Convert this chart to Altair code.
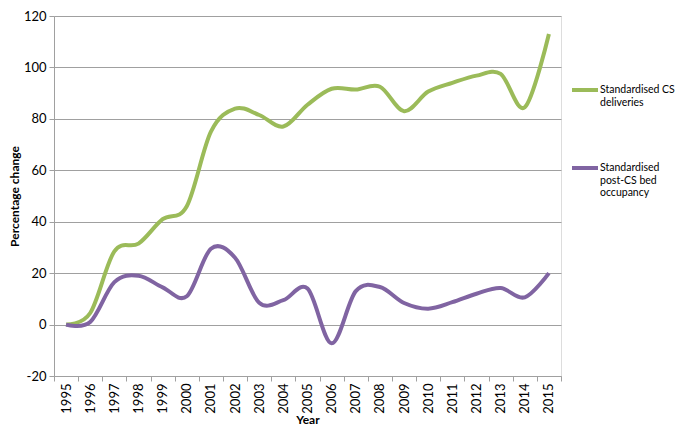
import altair as alt
import pandas as pd

years = list(range(1995, 2016))
cs_deliveries = [0, 4.5, 28.5, 31.5, 41, 46, 75, 84, 81.5, 77, 85.5, 91.7, 91.4, 92.5, 83, 90.6, 94, 96.8, 97.5, 84.5, 113]
bed_occupancy = [0, 1, 16.5, 19, 14.5, 11, 29.5, 26, 8.5, 9.5, 14, -7.3, 13, 14.6, 8.4, 6.2, 8.7, 12, 14.2, 10.6, 20]
series_names = ["Standardised CS deliveries", "Standardised post-CS bed occupancy"]
series_colors = ["#9BBB59", "#8064A2"]
y_ticks = [-20, 0, 20, 40, 60, 80, 100, 120]

rows = []
for yr, v in zip(years, cs_deliveries):
    rows.append({"Year": yr, "Value": v, "Series": series_names[0]})
for yr, v in zip(years, bed_occupancy):
    rows.append({"Year": yr, "Value": v, "Series": series_names[1]})
df = pd.DataFrame(rows)

FONT = "Lato"
GRID = "#A0A0A0"

label_expr = (
    "datum.label == 'Standardised CS deliveries' ? ['Standardised CS', 'deliveries'] : "
    "['Standardised', 'post-CS bed', 'occupancy']"
)

chart = alt.Chart(df).mark_line(
    interpolate="cardinal", tension=0, strokeWidth=4
).encode(
    x=alt.X(
        "Year:O",
        scale=alt.Scale(type="band", paddingInner=0, paddingOuter=0),
        bandPosition=0.5,
        axis=alt.Axis(
            title="Year", labelAngle=-90, tickBand="extent", grid=False,
            domainColor=GRID, tickColor=GRID, tickSize=5, labelPadding=2,
            labelFont=FONT, labelFontSize=13, labelColor="#000000",
            titleFont=FONT, titleFontSize=12, titleFontWeight="bold",
            titleColor="#000000", titlePadding=1,
        ),
    ),
    y=alt.Y(
        "Value:Q",
        scale=alt.Scale(domain=[-20, 120], nice=False, zero=False),
        axis=alt.Axis(
            values=y_ticks, title="Percentage change", grid=True,
            labelExpr="'' + datum.value",
            gridColor=GRID, domainColor=GRID, tickColor=GRID, tickSize=5,
            labelPadding=3, labelFont=FONT, labelFontSize=13, labelColor="#000000",
            titleFont=FONT, titleFontSize=12, titleFontWeight="bold",
            titleColor="#000000", titlePadding=2,
        ),
    ),
    color=alt.Color(
        "Series:N",
        scale=alt.Scale(domain=series_names, range=series_colors),
        legend=alt.Legend(
            title=None, orient="none", legendX=516, legendY=59,
            symbolType="stroke", symbolSize=676, symbolStrokeWidth=4,
            labelExpr=label_expr, labelFont=FONT, labelFontSize=10.5,
            labelColor="#000000", labelBaseline="middle", labelOffset=0,
            labelLimit=0, rowPadding=45, padding=0,
        ),
    ),
).properties(
    width=507, height=360,
    padding={"left": 0, "top": 2, "right": 0, "bottom": 0},
).configure_view(stroke=None).configure(background="white")

chart.save("out.html", embed_options={"renderer": "svg", "actions": False})
